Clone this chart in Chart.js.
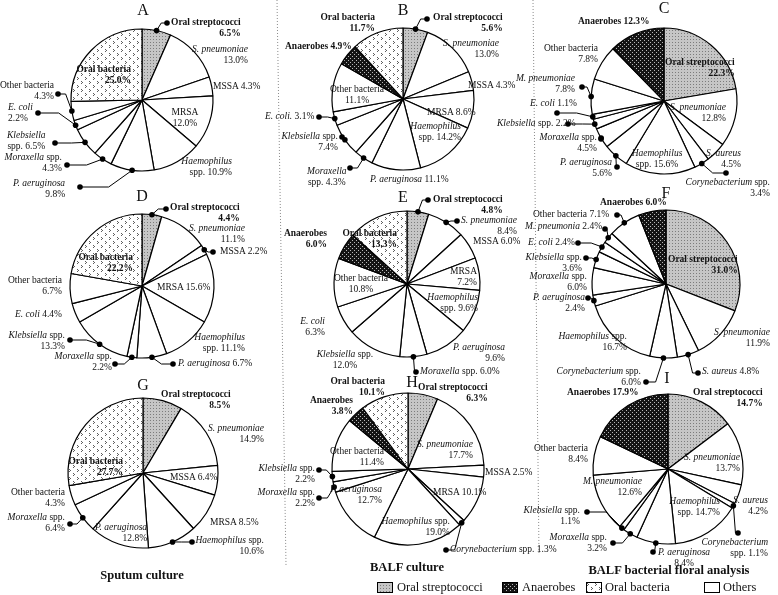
<!DOCTYPE html>
<html><head><meta charset="utf-8">
<script src="https://cdn.jsdelivr.net/npm/chart.js@4.4.0/dist/chart.umd.min.js"></script>
<style>
html,body{margin:0;padding:0;background:#fff;}
#stage{position:relative;width:778px;height:595px;overflow:hidden;font-family:"Liberation Serif","Times New Roman",serif;color:#111;}
#stage canvas.pie{position:absolute;left:0;top:0;}
#sep{position:absolute;left:0;top:0;}
.lb{position:absolute;font-size:9.5px;line-height:11px;white-space:nowrap;}
.lb.b{font-weight:bold;}
.pl{position:absolute;font-size:16px;transform:translate(-50%,-50%);}
.ct{position:absolute;font-size:12.5px;font-weight:bold;transform:translate(-50%,-50%);white-space:nowrap;}
.lgt{position:absolute;font-size:12.5px;transform:translateY(-50%);white-space:nowrap;}
.sw{position:absolute;}
</style>
</head><body>
<div id="stage">
<svg id="sep" width="778" height="595">
  <line x1="277" y1="0" x2="286" y2="565" stroke="#8a8a8a" stroke-width="1" stroke-dasharray="1 2"/>
  <line x1="533" y1="0" x2="539" y2="555" stroke="#8a8a8a" stroke-width="1" stroke-dasharray="1 2"/>
</svg>
</div>
<script>
// ---------- data ----------
const catsA = ['Oral streptococci','S. pneumoniae','MSSA','MRSA','Haemophilus spp.','P. aeruginosa','Moraxella spp.','Klebsiella spp.','E. coli','Other bacteria','Oral bacteria'];
const valsA = [6.5,13.0,4.3,12.0,10.9,9.8,4.3,6.5,2.2,4.3,25.0];
const catsB = ['Oral streptococci','S. pneumoniae','MSSA','MRSA','Haemophilus spp.','P. aeruginosa','Moraxella spp.','Klebsiella spp.','E. coli.','Other bacteria','Anaerobes','Oral bacteria'];
const valsB = [5.6,13.0,4.3,8.6,14.2,11.1,4.3,7.4,3.1,11.1,4.9,11.7];
const catsC = ['Oral streptococci','S. pneumoniae','S. aureus','Corynebacterium spp.','Haemophilus spp.','P. aeruginosa','Moraxella spp.','Klebsiella spp.','E. coli','M. pneumoniae','Other bacteria','Anaerobes'];
const valsC = [22.3,12.8,4.5,3.4,15.6,5.6,4.5,2.2,1.1,7.8,7.8,12.3];
const catsD = ['Oral streptococci','S. pneumoniae','MSSA','MRSA','Haemophilus spp.','P. aeruginosa','Moraxella spp.','Klebsiella spp.','E. coli','Other bacteria','Oral bacteria'];
const valsD = [4.4,11.1,2.2,15.6,11.1,6.7,2.2,13.3,4.4,6.7,22.2];
const catsE = ['Oral streptococci','S. pneumoniae','MSSA','MRSA','Haemophilus spp.','P. aeruginosa','Moraxella spp.','Klebsiella spp.','E. coli','Other bacteria','Anaerobes','Oral bacteria'];
const valsE = [4.8,8.4,6.0,7.2,9.6,9.6,6.0,12.0,6.3,10.8,6.0,13.3];
const catsF = ['Oral streptococci','S. pneumoniae','S. aureus','Corynebacterium spp.','Haemophilus spp.','P. aeruginosa','Moraxella spp.','Klebsiella spp.','E. coli','M. pneumonia','Other bacteria','Anaerobes'];
const valsF = [31.0,11.9,4.8,6.0,16.7,2.4,6.0,3.6,2.4,2.4,7.1,6.0];
const catsG = ['Oral streptococci','S. pneumoniae','MSSA','MRSA','Haemophilus spp.','P. aeruginosa','Moraxella spp.','Other bacteria','Oral bacteria'];
const valsG = [8.5,14.9,6.4,8.5,10.6,12.8,6.4,4.3,27.7];
const catsH = ['Oral streptococci','S. pneumoniae','MSSA','MRSA','Corynebacterium spp.','Haemophilus spp.','P. aeruginosa','Moraxella spp.','Klebsiella spp.','Other bacteria','Anaerobes','Oral bacteria'];
const valsH = [6.3,17.7,2.5,10.1,1.3,19.0,12.7,2.2,2.2,11.4,3.8,10.1];
const catsI = ['Oral streptococci','S. pneumoniae','S. aureus','Corynebacterium spp.','Haemophilus spp.','P. aeruginosa','Moraxella spp.','Klebsiella spp.','M. pneumoniae','Other bacteria','Anaerobes'];
const valsI = [14.7,13.7,4.2,1.1,14.7,8.4,3.2,1.1,12.6,8.4,17.9];
const panelLetters = ['A','B','C','D','E','F','G','H','I'];
const columnTitles = ['Sputum culture','BALF culture','BALF bacterial floral analysis'];
const legendItems = ['Oral streptococci','Anaerobes','Oral bacteria','Others'];

// ---------- label layout: [slice, x, y, anchor, align, breakAfterWords, dotX, dotY] ----------
const labA = [[0,171,17,'l','r',2,167,23],[1,248,44,'r','r',2],[2,213,81,'l','l',0],[3,185,107,'c','c',1],[4,232,156,'r','r',1],
  [5,13,178,'l','r',2,80,187],[6,62,152,'r','r',2,67,165],[7,7,130,'l','c',1,55,143],[8,8,102,'l','l',2,38,113],[9,54,80,'r','r',2,58,94],[10,131,64,'r','r',2]];
const labB = [[0,433,12,'l','r',2,427,19],[1,499,38,'r','r',2],[2,468,80,'l','l',0],[3,427,107,'l','l',0],[4,461,121,'r','r',1],
  [5,370,174,'l','l',0],[6,307,166,'l','c',1,350,168],[7,338,131,'r','r',2,342,137],[8,265,111,'l','l',0,319,117],[9,357,84,'c','c',2],[10,285,41,'l','l',0],[11,375,12,'r','r',2]];
const labC = [[0,665,57,'l','r',2],[1,726,102,'r','r',2],[2,741,148,'r','r',2],[3,770,177,'r','r',2,726,173],[4,657,148,'c','c',1],
  [5,612,157,'r','r',2,617,167],[6,597,132,'r','r',2,601,139],[7,497,118,'l','l',0,568,124],[8,530,98,'l','l',0,557,113],[9,575,73,'r','r',2,582,87],[10,598,43,'r','r',2],[11,578,16,'l','l',0]];
const labD = [[0,170,202,'l','r',2,166,209],[1,245,223,'r','r',2],[2,220,246,'l','l',0,213,252],[3,157,282,'l','l',0],[4,245,332,'r','r',1],
  [5,178,358,'l','l',0,173,364],[6,112,351,'r','r',2,115,364],[7,65,330,'r','r',2,70,340],[8,15,309,'l','l',0],[9,62,275,'r','r',2],[10,133,252,'r','r',2]];
const labE = [[0,433,194,'l','r',2,428,200],[1,461,215,'l','r',2,457,221],[2,473,236,'l','l',0],[3,477,266,'r','r',1],[4,478,292,'r','r',1],
  [5,505,342,'r','r',2],[6,420,366,'l','l',0,416,372],[7,345,349,'c','c',2],[8,325,316,'r','r',2],[9,361,273,'c','c',2],[10,327,228,'r','r',1],[11,397,228,'r','r',2]];
const labF = [[0,668,254,'l','r',2],[1,770,327,'r','r',2],[2,702,366,'l','l',0,698,373],[3,641,366,'r','r',2,646,382],[4,627,331,'r','r',2],
  [5,585,292,'r','r',2,588,298],[6,587,271,'r','r',2],[7,582,252,'r','r',2,586,258],[8,528,237,'l','l',0,578,243],[9,525,221,'l','l',0,605,229],[10,533,209,'l','l',0,617,215],[11,600,197,'l','l',0]];
const labG = [[0,161,389,'l','r',2],[1,264,423,'r','r',2],[2,170,472,'l','l',0],[3,210,517,'l','l',0],[4,264,535,'r','r',2,192,542],
  [5,95,522,'l','r',2],[6,65,512,'r','r',2,70,524],[7,65,487,'r','r',2],[8,123,456,'r','r',2]];
const labH = [[0,418,382,'l','r',2],[1,473,439,'r','r',2],[2,485,467,'l','l',0],[3,433,487,'l','l',0],[4,450,544,'l','l',0,446,550],
  [5,450,516,'r','r',2],[6,382,484,'r','r',2],[7,315,487,'r','r',2,319,498],[8,315,463,'r','r',2,319,470],[9,384,446,'r','r',2],[10,353,395,'r','r',1],[11,385,376,'r','r',2]];
const labI = [[0,693,387,'l','r',2],[1,740,452,'r','r',2],[2,768,495,'r','r',2],[3,768,537,'r','r',1,738,533],[4,720,496,'r','r',1],
  [5,658,547,'l','c',2,653,552],[6,607,532,'r','r',2,613,543],[7,580,505,'r','r',2,587,512],[8,642,476,'r','r',2],[9,588,443,'r','r',2],[10,567,387,'l','l',0]];

const W = 778, H = 595;
const panels = [
  {cats:catsA, vals:valsA, labs:labA, cx:142, cy:100, r:71, lp:[143,10]},
  {cats:catsB, vals:valsB, labs:labB, cx:403, cy:99,  r:71, lp:[403,10]},
  {cats:catsC, vals:valsC, labs:labC, cx:664, cy:101, r:73, lp:[664,8]},
  {cats:catsD, vals:valsD, labs:labD, cx:142, cy:286, r:72, lp:[142,196]},
  {cats:catsE, vals:valsE, labs:labE, cx:407, cy:284, r:73, lp:[403,197]},
  {cats:catsF, vals:valsF, labs:labF, cx:666, cy:284, r:74, lp:[666,193]},
  {cats:catsG, vals:valsG, labs:labG, cx:143, cy:473, r:75, lp:[143,385]},
  {cats:catsH, vals:valsH, labs:labH, cx:408, cy:469, r:76, lp:[412,382]},
  {cats:catsI, vals:valsI, labs:labI, cx:668, cy:469, r:75, lp:[667,378]}
];
const titlePos = [[142,575],[407,567],[669,570]];

// ---------- patterns ----------
function makeTile(w,h,bg,pts,col){
  const c=document.createElement('canvas'); c.width=w; c.height=h;
  const g=c.getContext('2d'); g.fillStyle=bg; g.fillRect(0,0,w,h); g.fillStyle=col;
  pts.forEach(p=>g.fillRect(p[0],p[1],1,1)); return c;
}
const tmp = document.createElement('canvas').getContext('2d');
const tStrep = makeTile(3,3,'#c6c6c6',[[0,0]],'#7c7c7c');
const tAnaer = makeTile(4,4,'#141414',[[0,0],[2,2]],'#b8b8b8');
const tOral  = makeTile(8,8,'#ffffff',[[1,1],[2,2],[1,3],[5,5],[6,6],[5,7]],'#5e5e5e');
const PAT = {
  'Oral streptococci': tmp.createPattern(tStrep,'repeat'),
  'Anaerobes': tmp.createPattern(tAnaer,'repeat'),
  'Oral bacteria': tmp.createPattern(tOral,'repeat')
};
const fillFor = n => PAT[n] || '#ffffff';

const PLAIN = ['Oral streptococci','Oral bacteria','Anaerobes','Other bacteria','MSSA','MRSA'];
const BOLD = ['Oral streptococci','Oral bacteria','Anaerobes'];

function esc(s){return s.replace(/&/g,'&amp;').replace(/</g,'&lt;');}
function labelHTML(name,val,br){
  const nameWords = name.split(' ');
  const words = nameWords.concat([val.toFixed(1)+'%']);
  const ital = !PLAIN.includes(name);
  let h='';
  words.forEach((w,k)=>{
    let t=esc(w);
    if(ital && k<nameWords.length && w!=='spp.') t='<i>'+t+'</i>';
    if(k>0) h += (k===br ? '<br>' : ' ');
    h += t;
  });
  return h;
}

function leaderPlugin(labs){
  return {
    id:'leaders',
    afterDatasetsDraw(chart){
      const meta = chart.getDatasetMeta(0);
      const ctx = chart.ctx;
      ctx.save(); ctx.strokeStyle='#000'; ctx.fillStyle='#000'; ctx.lineWidth=1;
      labs.forEach(L=>{
        if(L.length<8) return;
        const arc = meta.data[L[0]];
        const p = arc.getProps(['x','y','startAngle','endAngle','outerRadius'], true);
        const mid = (p.startAngle+p.endAngle)/2;
        const ax = p.x+Math.cos(mid)*p.outerRadius, ay = p.y+Math.sin(mid)*p.outerRadius;
        const lx=L[6], ly=L[7];
        const ex = lx+(ax-lx)*0.55, ey = ly;
        ctx.beginPath(); ctx.moveTo(lx,ly); ctx.lineTo(ex,ey); ctx.lineTo(ax,ay); ctx.stroke();
        [[ax,ay],[lx,ly]].forEach(q=>{ctx.beginPath(); ctx.arc(q[0],q[1],2.8,0,Math.PI*2); ctx.fill();});
      });
      ctx.restore();
    }
  };
}

const stage = document.getElementById('stage');
panels.forEach((P,pi)=>{
  const cv = document.createElement('canvas');
  cv.className='pie'; cv.width=W; cv.height=H; cv.style.width=W+'px'; cv.style.height=H+'px';
  stage.appendChild(cv);
  const rr = P.r+0.6;
  new Chart(cv,{
    type:'pie',
    data:{labels:P.cats, datasets:[{data:P.vals, backgroundColor:P.cats.map(fillFor), borderColor:'#000', borderWidth:1.2, hoverOffset:0}]},
    options:{
      responsive:false, animation:false, events:[], devicePixelRatio:1,
      layout:{padding:{left:P.cx-rr, top:P.cy-rr, right:W-(P.cx+rr), bottom:H-(P.cy+rr)}},
      plugins:{legend:{display:false}, tooltip:{enabled:false}, title:{display:false}}
    },
    plugins:[leaderPlugin(P.labs)]
  });
});

// text layer
panels.forEach((P,pi)=>{
  const l = document.createElement('div'); l.className='pl'; l.textContent=panelLetters[pi];
  l.style.left=P.lp[0]+'px'; l.style.top=P.lp[1]+'px'; stage.appendChild(l);
  P.labs.forEach(L=>{
    const name=P.cats[L[0]], val=P.vals[L[0]];
    const d=document.createElement('div'); d.className='lb'+(BOLD.includes(name)?' b':'');
    d.innerHTML=labelHTML(name,val,L[5]);
    d.style.top=L[2]+'px'; d.style.textAlign={l:'left',r:'right',c:'center'}[L[4]];
    if(L[3]==='l') d.style.left=L[1]+'px';
    else if(L[3]==='r') d.style.right=(W-L[1])+'px';
    else {d.style.left=L[1]+'px'; d.style.transform='translateX(-50%)';}
    stage.appendChild(d);
  });
});
columnTitles.forEach((t,i)=>{
  const d=document.createElement('div'); d.className='ct'; d.textContent=t;
  d.style.left=titlePos[i][0]+'px'; d.style.top=titlePos[i][1]+'px'; stage.appendChild(d);
});
// legend
const legBox = [[377,397],[502,522],[586,605],[704,723]];
legendItems.forEach((t,i)=>{
  const c=document.createElement('canvas'); c.className='sw'; c.width=16; c.height=11;
  c.style.left=legBox[i][0]+'px'; c.style.top=(587-5.5)+'px';
  const g=c.getContext('2d'); g.fillStyle=fillFor(t); g.fillRect(0,0,16,11);
  g.strokeStyle='#000'; g.lineWidth=1; g.strokeRect(0.5,0.5,15,10);
  stage.appendChild(c);
  const d=document.createElement('div'); d.className='lgt'; d.textContent=t;
  d.style.left=legBox[i][1]+'px'; d.style.top='587px'; stage.appendChild(d);
});
</script>
</body></html>
